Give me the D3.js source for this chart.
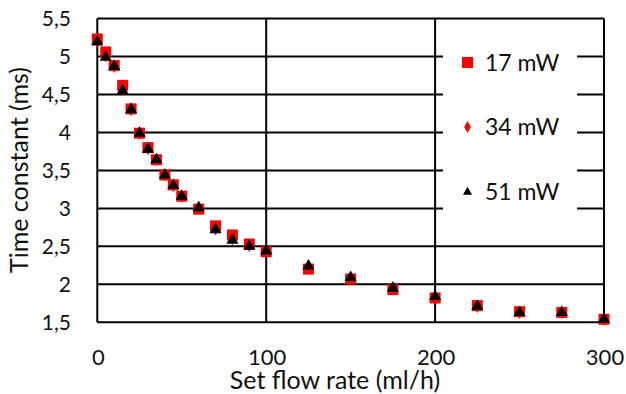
<!DOCTYPE html>
<html>
<head>
<meta charset="utf-8">
<script src="https://cdn.jsdelivr.net/npm/d3@7"></script>
<style>
  body { margin: 0; background: #fff; }
  text { font-family: Lato, 'Open Sans', sans-serif; fill: #111; }
</style>
</head>
<body>
<div id="chart"></div>
<script>
// flow rates (ml/h)
const flow = [0, 5, 10, 15, 20, 25, 30, 35, 40, 45, 50, 60, 70, 80, 90, 100, 125, 150, 175, 200, 225, 250, 275, 300];
// time constants (ms) per laser power
const tau17 = [5.23, 5.06, 4.88, 4.62, 4.31, 3.99, 3.80, 3.64, 3.44, 3.31, 3.16, 2.99, 2.77, 2.65, 2.53, 2.43, 2.20, 2.07, 1.93, 1.82, 1.72, 1.64, 1.63, 1.54];
const tau34 = [5.20, 5.01, 4.87, 4.57, 4.30, 3.99, 3.79, 3.64, 3.44, 3.30, 3.16, 3.00, 2.73, 2.60, 2.51, 2.44, 2.23, 2.08, 1.94, 1.83, 1.71, 1.63, 1.63, 1.54];
const tau51 = [5.19, 4.99, 4.87, 4.55, 4.30, 3.99, 3.78, 3.64, 3.44, 3.30, 3.16, 3.01, 2.72, 2.58, 2.50, 2.44, 2.24, 2.09, 1.95, 1.84, 1.71, 1.63, 1.63, 1.54];
const xTicks = [0, 100, 200, 300];
const yTicks = [1.5, 2, 2.5, 3, 3.5, 4, 4.5, 5, 5.5];
const seriesNames = ['17 mW', '34 mW', '51 mW'];

const width = 626, height = 394;
const margin = { top: 18.5, right: 22, bottom: 71.7, left: 97.3 };

const svg = d3.select('#chart')
    .append('svg')
    .attr('width', width)
    .attr('height', height);

const x = d3.scaleLinear().domain([0, 300]).range([margin.left, width - margin.right]);
const y = d3.scaleLinear().domain([1.5, 5.5]).range([height - margin.bottom, margin.top]);

const fmt = d => String(d).replace('.', ',');

// horizontal gridlines
svg.append('g')
    .selectAll('line')
    .data(yTicks)
    .enter()
    .append('line')
    .attr('x1', x(0)).attr('x2', x(300))
    .attr('y1', d => y(d)).attr('y2', d => y(d))
    .style('stroke', '#000')
    .style('stroke-width', 2);

// vertical gridlines
svg.append('g')
    .selectAll('line')
    .data(xTicks)
    .enter()
    .append('line')
    .attr('x1', d => x(d)).attr('x2', d => x(d))
    .attr('y1', y(1.5)).attr('y2', y(5.5))
    .style('stroke', '#000')
    .style('stroke-width', 2);

// tick labels
svg.append('g')
    .selectAll('text')
    .data(yTicks)
    .enter()
    .append('text')
    .attr('x', 71)
    .attr('y', d => y(d))
    .attr('dy', '0.35em')
    .attr('text-anchor', 'end')
    .attr('font-size', '21px')
    .text(fmt);

svg.append('g')
    .selectAll('text')
    .data(xTicks)
    .enter()
    .append('text')
    .attr('x', d => x(d) + 1)
    .attr('y', 365)
    .attr('text-anchor', 'middle')
    .attr('font-size', '22px')
    .text(d => d);

// axis titles
svg.append('text')
    .attr('x', 335)
    .attr('y', 389)
    .attr('text-anchor', 'middle')
    .attr('font-size', '25px')
    .text('Set flow rate (ml/h)');

svg.append('text')
    .attr('transform', 'translate(28,170) rotate(-90)')
    .attr('text-anchor', 'middle')
    .attr('font-size', '25px')
    .text('Time constant (ms)');

// legend box hides the grid behind it
svg.append('rect')
    .attr('x', 443).attr('y', 32)
    .attr('width', 134).attr('height', 192)
    .style('fill', '#fff');

// marker shapes
const square = d3.symbol().type(d3.symbolSquare).size(121);
const diamond = d3.symbol().type(d3.symbolDiamond).size(50);
const triangle = d3.symbol().type(d3.symbolTriangle).size(64);
const shapes = [
    { gen: square, color: '#ff0000', vals: tau17 },
    { gen: diamond, color: '#ff0000', vals: tau34 },
    { gen: triangle, color: '#000000', vals: tau51 }
];

shapes.forEach(function (s) {
    svg.append('g')
        .selectAll('path')
        .data(flow)
        .enter()
        .append('path')
        .attr('d', s.gen)
        .attr('transform', (d, i) => 'translate(' + x(d) + ',' + y(s.vals[i]) + ')')
        .style('fill', s.color);
});

// legend entries (smaller glyphs for diamond and triangle, like the original)
const legendY = [62.5, 127, 192];
const legendShapes = [square, d3.symbol().type(d3.symbolDiamond).size(40), d3.symbol().type(d3.symbolTriangle).size(36)];
shapes.forEach(function (s, i) {
    svg.append('path')
        .attr('d', legendShapes[i])
        .attr('transform', 'translate(467.5,' + legendY[i] + ')')
        .style('fill', s.color);
    svg.append('text')
        .attr('x', 485)
        .attr('y', legendY[i])
        .attr('dy', '0.36em')
        .attr('font-size', '23px')
        .text(seriesNames[i]);
});
</script>
</body>
</html>
